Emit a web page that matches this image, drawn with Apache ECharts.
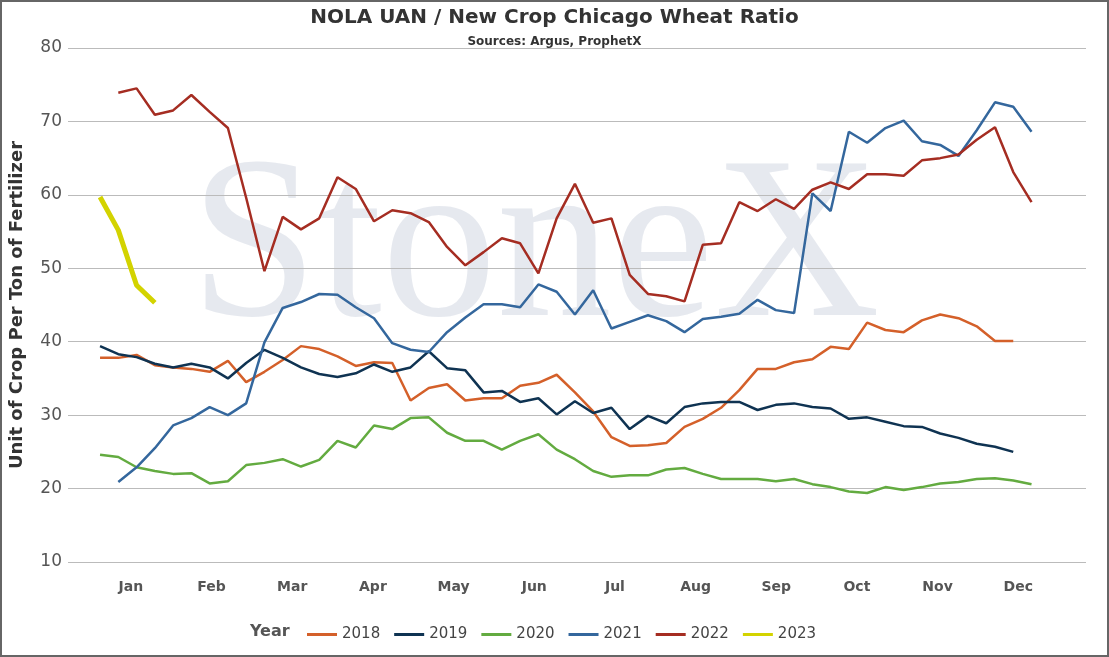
<!DOCTYPE html>
<html>
<head>
<meta charset="utf-8">
<script src="https://cdn.jsdelivr.net/npm/echarts@6/dist/echarts.min.js"></script>
<style>
  html, body { margin: 0; padding: 0; background: #fff; }
  #main { width: 1109px; height: 657px; }
  #frame { position: absolute; left: 0; top: 0; width: 1109px; height: 657px; box-sizing: border-box;
           border: 2px solid #666; pointer-events: none; }
</style>
</head>
<body>
<div id="main"></div>
<div id="frame"></div>
<script>
// month labels
const months = ['Jan','Feb','Mar','Apr','May','Jun','Jul','Aug','Sep','Oct','Nov','Dec'];

// weekly ratios per year (first value = week index given in start)
const y2018 = [37.8,37.8,38.2,36.8,36.5,36.3,35.9,37.4,34.5,35.9,37.5,39.4,39.0,38.0,36.7,37.2,37.1,32.0,33.7,34.2,
  32.0,32.3,32.3,34.0,34.4,35.5,33.1,30.5,27.0,25.8,25.9,26.2,28.4,29.5,31.0,33.4,36.3,36.3,37.2,37.6,
  39.3,39.0,42.6,41.6,41.3,42.9,43.7,43.2,42.1,40.1,40.1];
const y2019 = [39.4,38.3,37.9,37.0,36.5,37.0,36.5,35.0,37.1,38.9,37.8,36.5,35.6,35.2,35.7,36.9,35.9,36.5,38.7,36.4,
  36.1,33.1,33.3,31.8,32.3,30.1,31.9,30.3,31.0,28.1,29.9,28.9,31.1,31.6,31.8,31.8,30.7,31.4,31.6,31.1,
  30.9,29.5,29.7,29.1,28.5,28.4,27.5,26.9,26.1,25.7,25.0];
const y2020 = [24.6,24.3,22.9,22.4,22.0,22.1,20.7,21.0,23.2,23.5,24.0,23.0,23.9,26.5,25.6,28.6,28.1,29.6,29.7,27.6,
  26.5,26.5,25.3,26.5,27.4,25.3,24.0,22.4,21.6,21.8,21.8,22.6,22.8,22.0,21.3,21.3,21.3,21.0,21.3,20.6,
  20.2,19.6,19.4,20.2,19.8,20.2,20.7,20.9,21.3,21.4,21.1,20.6];
const y2021 = [20.9,22.9,25.5,28.6,29.6,31.1,30.0,31.6,39.9,44.6,45.4,46.5,46.4,44.7,43.2,39.8,38.9,38.6,41.3,43.3,
  45.1,45.1,44.7,47.8,46.8,43.7,47.0,41.8,42.7,43.6,42.8,41.3,43.1,43.4,43.8,45.7,44.3,43.9,60.2,57.8,
  68.6,67.1,69.1,70.1,67.3,66.8,65.3,68.8,72.6,72.0,68.6];
const y2022 = [73.9,74.5,70.9,71.5,73.6,71.3,69.1,59.6,49.6,57.0,55.3,56.8,62.4,60.8,56.4,57.9,57.5,56.3,52.9,50.4,
  52.2,54.1,53.4,49.3,56.8,61.5,56.2,56.8,49.1,46.5,46.2,45.5,53.2,53.4,59.0,57.8,59.4,58.1,60.7,61.7,
  60.8,62.8,62.8,62.6,64.7,65.0,65.5,67.5,69.2,63.1,59.0];
const y2023 = [59.7,55.2,47.7,45.3];

const start = { '2018': 0, '2019': 0, '2020': 0, '2021': 1, '2022': 1, '2023': 0 };
const colors = { '2018': '#d4602a', '2019': '#0f3352', '2020': '#63ab40', '2021': '#34679d', '2022': '#a52d22', '2023': '#d3d300' };

// week index -> position in month units
function wk(i) { return (i * 18.34 - 31) / 81; }

function mk(name, arr) {
  return {
    name: name, type: 'line', symbol: 'none',
    data: arr.map((v, k) => [wk(k + start[name]), v]),
    lineStyle: { width: name === '2023' ? 5 : 2.5, color: colors[name] },
    itemStyle: { color: colors[name] },
    z: 3
  };
}

const chart = echarts.init(document.getElementById('main'));
chart.setOption({
  animation: false,
  title: {
    text: 'NOLA UAN / New Crop Chicago Wheat Ratio',
    subtext: 'Sources: Argus, ProphetX',
    left: 'center', top: 3, itemGap: 8,
    textStyle: { fontFamily: 'DejaVu Sans', fontSize: 20, fontWeight: 'bold', color: '#333' },
    subtextStyle: { fontFamily: 'DejaVu Sans', fontSize: 12, fontWeight: 'bold', color: '#333' }
  },
  graphic: [
    { type: 'text', left: 190, top: 140, z: 0, silent: true,
      style: { text: 'StoneX', font: '230px "Liberation Serif"', fill: 'rgba(200,207,220,0.45)' } },
    { type: 'text', left: 250, top: 624, style: { text: 'Year', font: 'bold 16px "DejaVu Sans"', fill: '#555' } }
  ],
  legend: {
    left: 302, bottom: 10, itemWidth: 30, itemHeight: 3, itemGap: 14,
    icon: 'rect',
    textStyle: { fontFamily: 'DejaVu Sans', fontSize: 15, color: '#444' },
    data: ['2018','2019','2020','2021','2022','2023']
  },
  grid: { left: 64, right: 23, top: 48, bottom: 95 },
  xAxis: {
    type: 'value', min: -0.78, max: 11.84,
    axisLine: { show: false }, axisTick: { show: false }, splitLine: { show: false },
    axisLabel: {
      customValues: [0,1,2,3,4,5,6,7,8,9,10,11],
      formatter: v => months[Math.round(v)],
      margin: 18, fontFamily: 'DejaVu Sans', fontSize: 14, fontWeight: 'bold', color: '#555'
    }
  },
  yAxis: {
    type: 'value', min: 10, max: 80, interval: 10,
    name: 'Unit of Crop Per Ton of Fertilizer', nameLocation: 'middle', nameGap: 42, nameRotate: 90,
    nameTextStyle: { fontFamily: 'DejaVu Sans', fontSize: 18, fontWeight: 'bold', color: '#333' },
    axisLine: { show: false }, axisTick: { show: false },
    axisLabel: { fontFamily: 'DejaVu Sans', fontSize: 17, color: '#555', margin: 6 },
    splitLine: { lineStyle: { color: '#bbb', width: 1 } }
  },
  series: [mk('2018', y2018), mk('2019', y2019), mk('2020', y2020), mk('2021', y2021), mk('2022', y2022), mk('2023', y2023)]
});
</script>
</body>
</html>
